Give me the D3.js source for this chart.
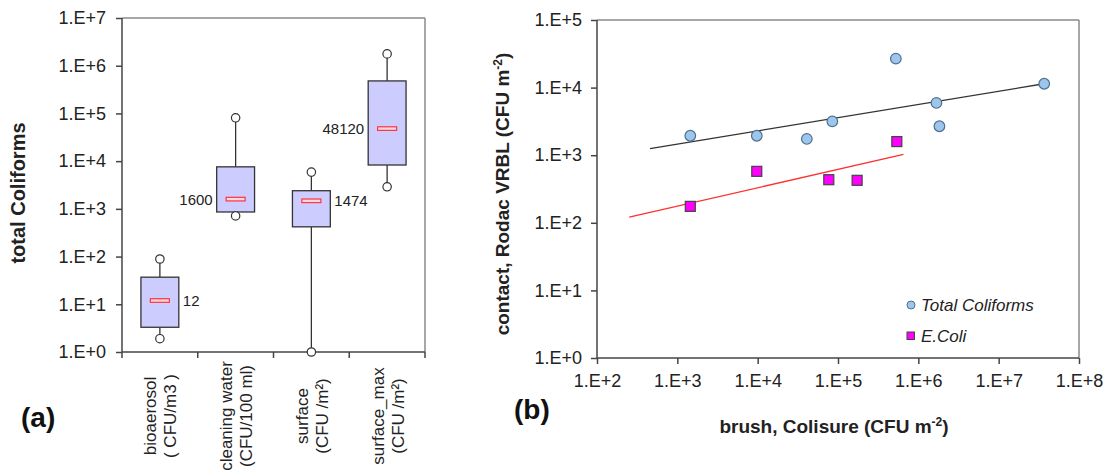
<!DOCTYPE html>
<html><head><meta charset="utf-8">
<script src="https://cdn.jsdelivr.net/npm/d3@7"></script>
<style>
html,body{margin:0;padding:0;background:#fff;}
svg{display:block;font-family:Arial,"Liberation Sans",sans-serif;}
</style></head>
<body>
<svg id="chart" width="1114" height="472"></svg>
<script>
// ---------- Panel (a) data ----------
const categories = ["bioaerosol", "cleaning water", "surface", "surface_max"];
const categoryUnits = ["( CFU/m3 )", "(CFU/100 ml)", "(CFU /m²)", "(CFU /m²)"];
const boxMin = [1.9, 710, 1, 2900];
const boxQ1 = [3.3, 860, 420, 8300];
const boxMedian = [12, 1600, 1474, 48120];
const boxQ3 = [37, 7600, 2400, 480000];
const boxMax = [89, 81000, 5900, 1770000];
const medianLabels = ["12", "1600", "1474", "48120"];
const medianLabelSide = ["right", "left", "right", "left"];
const yTicksA = [1, 10, 100, 1000, 10000, 100000, 1000000, 10000000];

// ---------- Panel (b) data ----------
const tcX = [1450, 9750, 40900, 85000, 525000, 1680000, 1830000, 36900000];
const tcY = [1940, 1940, 1740, 3170, 26800, 5930, 2680, 11400];
const ecX = [1450, 9750, 76800, 173000, 540000];
const ecY = [175, 577, 434, 425, 1590];
const tcTrendX = [457, 36900000];
const tcTrendY = [1250, 11400];
const ecTrendX = [252, 653000];
const ecTrendY = [121, 1030];
const xTicksB = [1e2, 1e3, 1e4, 1e5, 1e6, 1e7, 1e8];
const yTicksB = [1, 10, 100, 1000, 10000, 100000];
const legendLabels = ["Total Coliforms", "E.Coli"];

const fmt = v => "1.E+" + Math.round(Math.log10(v));
const svg = d3.select("#chart");
const axisCol = "#444", frameCol = "#8a8a8a";

// ================= Panel (a) =================
const A = {l: 122, r: 425, t: 18, b: 352};
const xA = d3.scaleBand().domain(categories).range([A.l, A.r]);
const yA = d3.scaleLog().domain([1, 1e7]).range([A.b, A.t]);
const gA = svg.append("g");

// frame
gA.append("line").attr("x1", A.l).attr("x2", A.r).attr("y1", A.t).attr("y2", A.t).attr("stroke", frameCol).attr("stroke-width", 1.5);
gA.append("line").attr("x1", A.r).attr("x2", A.r).attr("y1", A.t).attr("y2", A.b).attr("stroke", frameCol).attr("stroke-width", 1.5);

const yAxisA = d3.axisLeft(yA).tickValues(yTicksA).tickFormat(fmt).tickSize(6).tickPadding(10);
const gyA = gA.append("g").attr("transform", `translate(${A.l},0)`).call(yAxisA);
gyA.selectAll("text").attr("font-size", 18).attr("fill", "#222").attr("font-family", "Arial, 'Liberation Sans', sans-serif");
gyA.selectAll("line,path").attr("stroke", axisCol).attr("stroke-width", 1.5);
gyA.select("path").attr("d", `M0,${A.t}V${A.b}`);

// x axis with ticks at band boundaries
const bounds = categories.map(c => xA(c)).concat([A.r]);
gA.append("line").attr("x1", A.l).attr("x2", A.r).attr("y1", A.b).attr("y2", A.b).attr("stroke", axisCol).attr("stroke-width", 1.5);
gA.selectAll(".xtA").data(bounds).enter().append("line")
  .attr("x1", d => d).attr("x2", d => d).attr("y1", A.b).attr("y2", A.b + 6)
  .attr("stroke", axisCol).attr("stroke-width", 1.5);

// category labels (rotated, two lines)
categories.forEach((c, i) => {
  const cx = xA(c) + xA.bandwidth() / 2;
  const g = gA.append("g").attr("transform", `translate(${cx},416) rotate(-90)`);
  g.append("text").attr("x", 0).attr("y", -9).attr("text-anchor", "middle").attr("dominant-baseline", "central")
    .attr("font-size", 17).attr("fill", "#222").text(c);
  g.append("text").attr("x", 0).attr("y", 11).attr("text-anchor", "middle").attr("dominant-baseline", "central")
    .attr("font-size", 17).attr("fill", "#222").text(categoryUnits[i]);
});

// boxes
const bw = xA.bandwidth() * 0.5;
categories.forEach((c, i) => {
  const cx = xA(c) + xA.bandwidth() / 2;
  // whiskers
  gA.append("line").attr("x1", cx).attr("x2", cx).attr("y1", yA(boxQ3[i])).attr("y2", yA(boxMax[i])).attr("stroke", "#333").attr("stroke-width", 1.3);
  gA.append("line").attr("x1", cx).attr("x2", cx).attr("y1", yA(boxQ1[i])).attr("y2", yA(boxMin[i])).attr("stroke", "#333").attr("stroke-width", 1.3);
  gA.append("rect").attr("x", cx - bw / 2).attr("y", yA(boxQ3[i])).attr("width", bw).attr("height", yA(boxQ1[i]) - yA(boxQ3[i]))
    .attr("fill", "#ccccff").attr("stroke", "#333").attr("stroke-width", 1.3);
  gA.append("rect").attr("x", cx - 9.5).attr("y", yA(boxMedian[i]) - 1.8).attr("width", 19).attr("height", 3.6)
    .attr("fill", "#ffdada").attr("stroke", "#ff3344").attr("stroke-width", 1.2);
  [boxMax[i], boxMin[i]].forEach(v => {
    gA.append("circle").attr("cx", cx).attr("cy", yA(v)).attr("r", 4.2).attr("fill", "#fff").attr("stroke", "#333").attr("stroke-width", 1.2);
  });
  const right = medianLabelSide[i] === "right";
  gA.append("text").attr("x", right ? cx + bw / 2 + 4 : cx - bw / 2 - 4).attr("y", yA(boxMedian[i]))
    .attr("text-anchor", right ? "start" : "end").attr("dominant-baseline", "central")
    .attr("font-size", 15).attr("fill", "#222").text(medianLabels[i]);
});

// y title
gA.append("text").attr("transform", `translate(25,${(A.t + A.b) / 2 + 8}) rotate(-90)`)
  .attr("text-anchor", "middle").attr("font-size", 20).attr("font-weight", "bold").attr("fill", "#222").text("total Coliforms");
gA.append("text").attr("x", 21).attr("y", 417).attr("dominant-baseline", "central")
  .attr("font-size", 28).attr("font-weight", "bold").attr("fill", "#111").text("(a)");

// ================= Panel (b) =================
const B = {l: 597, r: 1079, t: 20, b: 358};
const xB = d3.scaleLog().domain([1e2, 1e8]).range([B.l, B.r]);
const yB = d3.scaleLog().domain([1, 1e5]).range([B.b, B.t]);
const gB = svg.append("g");

gB.append("line").attr("x1", B.l).attr("x2", B.r).attr("y1", B.t).attr("y2", B.t).attr("stroke", frameCol).attr("stroke-width", 1.5);
gB.append("line").attr("x1", B.r).attr("x2", B.r).attr("y1", B.t).attr("y2", B.b).attr("stroke", frameCol).attr("stroke-width", 1.5);

const gyB = gB.append("g").attr("transform", `translate(${B.l},0)`)
  .call(d3.axisLeft(yB).tickValues(yTicksB).tickFormat(fmt).tickSize(6).tickPadding(9));
const gxB = gB.append("g").attr("transform", `translate(0,${B.b})`)
  .call(d3.axisBottom(xB).tickValues(xTicksB).tickFormat(fmt).tickSize(6).tickPadding(10));
[gyB, gxB].forEach(g => {
  g.selectAll("text").attr("font-size", 18).attr("fill", "#222").attr("font-family", "Arial, 'Liberation Sans', sans-serif");
  g.selectAll("line,path").attr("stroke", axisCol).attr("stroke-width", 1.5);
});
gyB.select("path").attr("d", `M0,${B.t}V${B.b}`);
gxB.select("path").attr("d", `M${B.l},0H${B.r}`);

// trend lines
const line = d3.line().x(d => xB(d[0])).y(d => yB(d[1]));
gB.append("path").attr("d", line(d3.zip(tcTrendX, tcTrendY))).attr("stroke", "#333").attr("stroke-width", 1.3).attr("fill", "none");
gB.append("path").attr("d", line(d3.zip(ecTrendX, ecTrendY))).attr("stroke", "#ff3030").attr("stroke-width", 1.3).attr("fill", "none");

// points
const tcFill = "#9cc6ec", tcStroke = "#4f6f8f";
gB.selectAll(".tc").data(d3.zip(tcX, tcY)).enter().append("circle")
  .attr("cx", d => xB(d[0])).attr("cy", d => yB(d[1])).attr("r", 5.3)
  .attr("fill", tcFill).attr("stroke", tcStroke).attr("stroke-width", 1.2);
gB.selectAll(".ec").data(d3.zip(ecX, ecY)).enter().append("rect")
  .attr("x", d => xB(d[0]) - 5).attr("y", d => yB(d[1]) - 5).attr("width", 10).attr("height", 10)
  .attr("fill", "#ff00ff").attr("stroke", "#444").attr("stroke-width", 1.2);

// legend
gB.append("circle").attr("cx", 911).attr("cy", 305).attr("r", 4).attr("fill", tcFill).attr("stroke", tcStroke).attr("stroke-width", 1);
gB.append("rect").attr("x", 907).attr("y", 332).attr("width", 7.5).attr("height", 7.5).attr("fill", "#ff00ff").attr("stroke", "#444").attr("stroke-width", 1);
legendLabels.forEach((t, i) => {
  gB.append("text").attr("x", 921).attr("y", 305 + i * 31).attr("dominant-baseline", "central")
    .attr("font-size", 17).attr("font-style", "italic").attr("fill", "#222").text(t);
});

// axis titles
const yT = gB.append("text").attr("transform", `translate(509,194) rotate(-90)`)
  .attr("text-anchor", "middle").attr("font-size", 19).attr("font-weight", "bold").attr("fill", "#222");
yT.append("tspan").text("contact,  Rodac VRBL (CFU m");
yT.append("tspan").attr("font-size", 12).attr("dy", -7).text("-2");
yT.append("tspan").attr("dy", 7).text(")");

const xT = gB.append("text").attr("x", 834).attr("y", 433)
  .attr("text-anchor", "middle").attr("font-size", 19).attr("font-weight", "bold").attr("fill", "#222");
xT.append("tspan").text("brush, Colisure (CFU m");
xT.append("tspan").attr("font-size", 12).attr("dy", -7).text("-2");
xT.append("tspan").attr("dy", 7).text(")");

gB.append("text").attr("x", 514).attr("y", 409).attr("dominant-baseline", "central")
  .attr("font-size", 28).attr("font-weight", "bold").attr("fill", "#111").text("(b)");
</script>
</body></html>
